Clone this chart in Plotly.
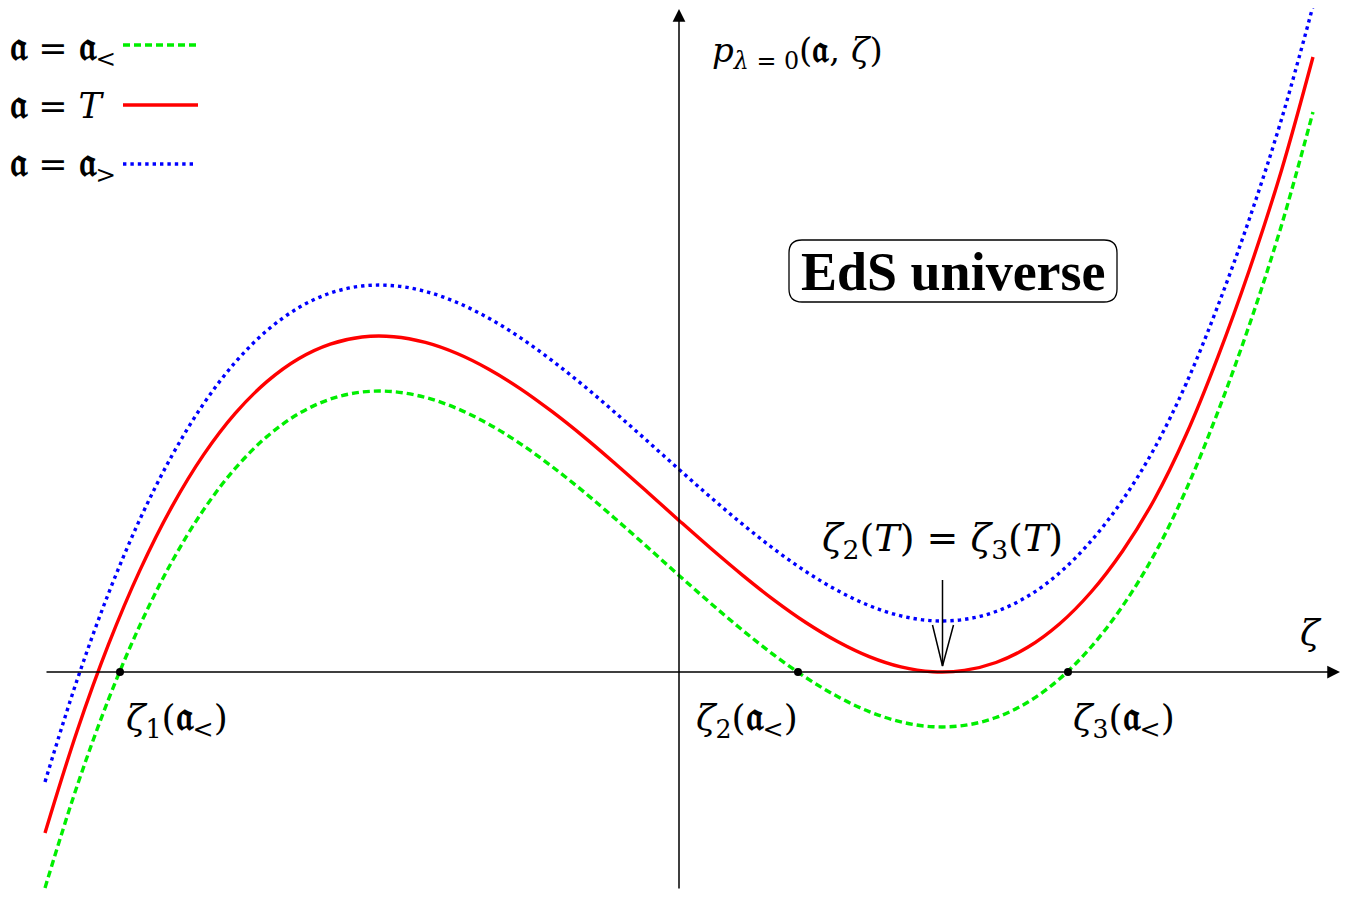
import plotly.graph_objects as go

# ---- data (units: 1 = 100 px) ----
zeta = [-6.34, -6.023, -5.706, -5.389, -5.072, -4.755, -4.438, -4.121, -3.804, -3.487,
        -3.17, -2.853, -2.536, -2.219, -1.902, -1.585, -1.268, -0.951, -0.634, -0.317,
        0.0, 0.317, 0.634, 0.951, 1.268, 1.585, 1.902, 2.219, 2.536, 2.853,
        3.17, 3.487, 3.804, 4.121, 4.438, 4.755, 5.072, 5.389, 5.706, 6.023, 6.34]
p_T = [-1.609, -0.602, 0.273, 1.021, 1.651, 2.171, 2.586, 2.904, 3.133, 3.279,
       3.350, 3.353, 3.296, 3.185, 3.028, 2.832, 2.603, 2.351, 2.080, 1.800,
       1.516, 1.237, 0.969, 0.719, 0.495, 0.305, 0.154, 0.051, 0.003, 0.016,
       0.095, 0.247, 0.480, 0.800, 1.213, 1.728, 2.375, 3.152, 4.028, 5.011, 6.150]
p_greater = [-1.099, -0.092, 0.783, 1.531, 2.161, 2.681, 3.096, 3.414, 3.643, 3.789,
             3.860, 3.863, 3.806, 3.695, 3.538, 3.342, 3.113, 2.861, 2.590, 2.310,
             2.026, 1.747, 1.479, 1.229, 1.005, 0.815, 0.664, 0.561, 0.513, 0.526,
             0.605, 0.757, 0.990, 1.310, 1.723, 2.238, 2.885, 3.662, 4.538, 5.521, 6.660]
p_less = [-2.159, -1.152, -0.277, 0.471, 1.101, 1.621, 2.036, 2.354, 2.583, 2.729,
          2.800, 2.803, 2.746, 2.635, 2.478, 2.282, 2.053, 1.801, 1.530, 1.250,
          0.966, 0.687, 0.419, 0.169, -0.055, -0.245, -0.396, -0.499, -0.547, -0.534,
          -0.455, -0.303, -0.070, 0.250, 0.663, 1.178, 1.825, 2.602, 3.478, 4.461, 5.600]
roots_less = [-5.59, 1.19, 3.89]
roots_y = [0, 0, 0]

SERIF = "DejaVu Serif, Liberation Serif, serif"
FR = "\U0001D51E"  # fraktur a


def fr(size):
    return f'<span style="font-size:{size}px"><b>{FR}</b></span>'


fig = go.Figure()

fig.add_trace(go.Scatter(x=zeta, y=p_greater, mode="lines", line_shape="spline",
                         line=dict(color="#0000ff", width=3.4, dash="3.4px,4px"), hoverinfo="skip"))
fig.add_trace(go.Scatter(x=zeta, y=p_less, mode="lines", line_shape="spline",
                         line=dict(color="#00ee00", width=3.4, dash="7px,4px"), hoverinfo="skip"))
fig.add_trace(go.Scatter(x=zeta, y=p_T, mode="lines", line_shape="spline",
                         line=dict(color="#ff0000", width=3.4), hoverinfo="skip"))
fig.add_trace(go.Scatter(x=roots_less, y=roots_y, mode="markers",
                         marker=dict(color="black", size=8), hoverinfo="skip"))

shapes = []
annotations = []

# axes with arrowheads
annotations.append(dict(x=6.61, y=0, ax=-6.34, ay=0, xref="x", yref="y", axref="x", ayref="y",
                        text="", showarrow=True, arrowhead=2, arrowsize=1.7, arrowwidth=1.5,
                        arrowcolor="black"))
annotations.append(dict(x=0, y=6.63, ax=0, ay=-2.18, xref="x", yref="y", axref="x", ayref="y",
                        text="", showarrow=True, arrowhead=2, arrowsize=1.7, arrowwidth=1.5,
                        arrowcolor="black"))

# arrow to double root
shapes.append(dict(type="line", x0=2.635, y0=0.92, x1=2.635, y1=0.06, xref="x", yref="y",
                   line=dict(color="black", width=1.5)))
shapes.append(dict(type="path", path="M 2.535,0.47 L 2.635,0.06 L 2.745,0.47", xref="x", yref="y",
                   line=dict(color="black", width=1.5)))

# legend swatches
shapes.append(dict(type="line", x0=-5.56, x1=-4.81, y0=6.27, y1=6.27, xref="x", yref="y",
                   line=dict(color="#00ee00", width=3.4, dash="7px,4px")))
shapes.append(dict(type="line", x0=-5.56, x1=-4.81, y0=5.67, y1=5.67, xref="x", yref="y",
                   line=dict(color="#ff0000", width=3.4)))
shapes.append(dict(type="line", x0=-5.56, x1=-4.86, y0=5.08, y1=5.08, xref="x", yref="y",
                   line=dict(color="#0000ff", width=3.4, dash="3.4px,4px")))

# rounded box
x0, x1, y0, y1, r = 1.10, 4.38, 3.70, 4.32, 0.13
path = (f"M {x0+r},{y0} L {x1-r},{y0} Q {x1},{y0} {x1},{y0+r} L {x1},{y1-r} "
        f"Q {x1},{y1} {x1-r},{y1} L {x0+r},{y1} Q {x0},{y1} {x0},{y1-r} "
        f"L {x0},{y0+r} Q {x0},{y0} {x0+r},{y0} Z")
shapes.append(dict(type="path", path=path, xref="x", yref="y", line=dict(color="black", width=1.3)))


def txt(x, y, s, size=32, xanchor="left", family=SERIF, **kw):
    annotations.append(dict(x=x, y=y, xref="x", yref="y", text=s, showarrow=False,
                            xanchor=xanchor, yanchor="middle",
                            font=dict(family=family, size=size, color="black"), **kw))


txt(-6.71, 6.25, f"{fr(40)} = {fr(40)}<sub>&lt;</sub>", size=35)
txt(-6.71, 5.69, f"{fr(40)} = <i>T</i>", size=35)
txt(-6.71, 5.09, f"{fr(40)} = {fr(40)}<sub>&gt;</sub>", size=35)
txt(0.31, 6.22, f"<i>p</i><sub><i>λ</i> = 0</sub>({fr(38)}, <i>ζ</i>)", size=34)
txt(2.74, 4.00, "<b>EdS universe</b>", size=54, xanchor="center",
    family="Liberation Serif, Times New Roman, serif")
txt(2.63, 1.32, "<i>ζ</i><sub>2</sub>(<i>T</i>) = <i>ζ</i><sub>3</sub>(<i>T</i>)", size=38,
    xanchor="center")
txt(-5.55, -0.46, f"<i>ζ</i><sub>1</sub>({fr(40)}<sub>&lt;</sub>)", size=36)
txt(0.15, -0.46, f"<i>ζ</i><sub>2</sub>({fr(40)}<sub>&lt;</sub>)", size=36)
txt(3.92, -0.46, f"<i>ζ</i><sub>3</sub>({fr(40)}<sub>&lt;</sub>)", size=36)
txt(6.32, 0.40, "<i>ζ</i>", size=36, xanchor="center")

# the page has an 8px body margin, so the figure is 1341x889 and the ranges are
# chosen to keep the origin at (679, 672) in the window
fig.update_layout(
    width=1341, height=889,
    margin=dict(l=0, r=0, t=0, b=0),
    paper_bgcolor="white", plot_bgcolor="white",
    showlegend=False,
    xaxis=dict(range=[-6.71, 6.70], visible=False, fixedrange=True),
    yaxis=dict(range=[-2.25, 6.64], visible=False, fixedrange=True),
    shapes=shapes, annotations=annotations,
)

fig.write_html("out.html")
